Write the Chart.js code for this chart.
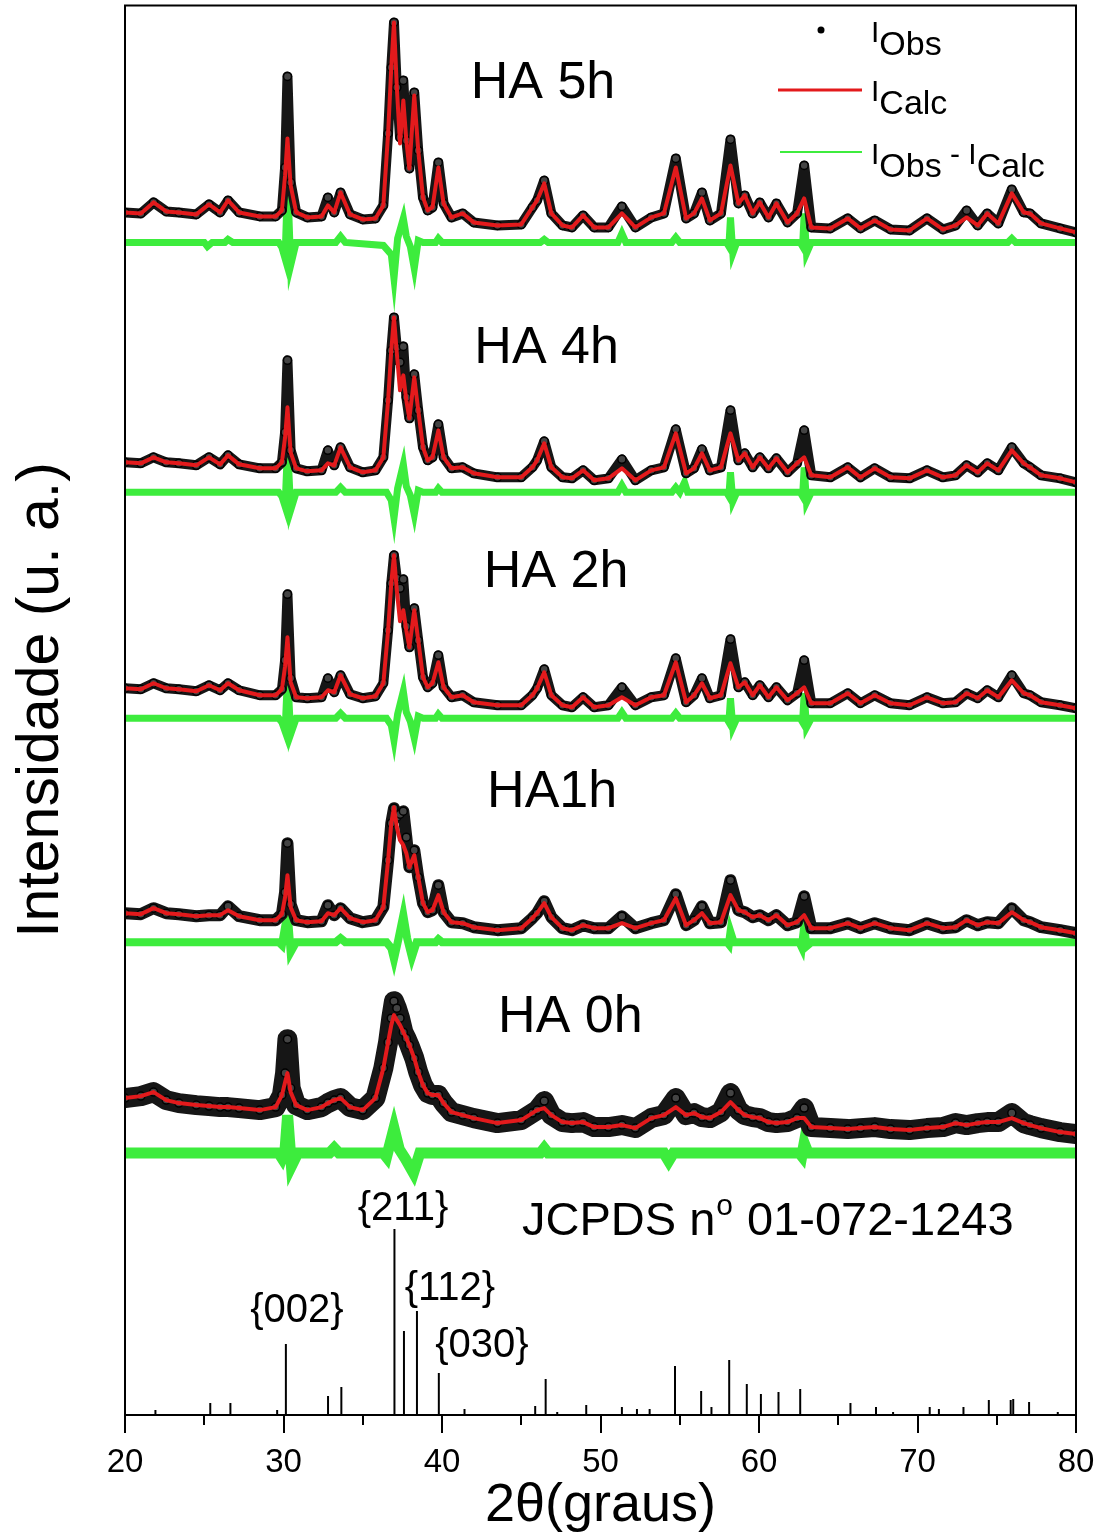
<!DOCTYPE html>
<html>
<head>
<meta charset="utf-8">
<title>DRX HA - refinamento Rietveld</title>
<script src="https://cdn.jsdelivr.net/npm/chart.js@4.4.1/dist/chart.umd.min.js"></script>
<style>
  html, body { margin: 0; padding: 0; background: #fff; }
  #wrap { width: 1101px; height: 1537px; }
</style>
</head>
<body>
<div id="wrap"><canvas id="drx" width="1101" height="1537"></canvas></div>
<script>
// 2θ grid shared by the observed / calculated profiles
const twoTheta = [20, 21.0, 21.8, 22.6, 23.4, 24.5, 25.3, 26.0, 26.5, 27.2, 28.5, 29.5, 29.9, 30.1, 30.25, 30.45, 30.8, 31.5, 32.4, 32.8,
  33.2, 33.6, 34.2, 35.0, 35.8, 36.3, 36.6, 36.8, 36.97, 37.15, 37.35, 37.56, 37.75, 37.94, 38.25, 38.5, 38.8, 39.1, 39.4, 39.77,
  40.1, 40.6, 41.3, 42.0, 43.5, 45.0, 45.7, 46.0, 46.45, 46.9, 47.6, 48.2, 48.9, 49.6, 50.5, 51.35, 52.2, 53.2, 54.0, 54.75,
  55.4, 55.9, 56.4, 56.9, 57.6, 58.2, 58.7, 59.1, 59.6, 60.05, 60.6, 61.1, 61.8, 62.4, 62.85, 63.3, 64.5, 65.6, 66.4, 67.3,
  68.3, 69.5, 70.6, 71.6, 72.4, 73.1, 73.8, 74.4, 75.1, 75.95, 76.7, 77.1, 77.8, 79.0, 80];

// HA 5h
const calc5h = [30, 29, 40, 31, 30, 28, 38, 30, 42, 30, 26, 26, 32, 67, 104, 57, 30, 25, 26, 37,
  30, 50, 28, 23, 24, 37, 109, 175, 220, 155, 99, 142, 102, 74, 147, 92, 45, 32, 35, 75,
  39, 25, 29, 20, 17, 18, 35, 42, 59, 29, 17, 15, 27, 15, 15, 29, 15, 25, 29, 75,
  24, 29, 44, 22, 29, 77, 39, 47, 29, 40, 25, 39, 20, 29, 44, 15, 14, 24, 14, 22,
  13, 12, 24, 13, 17, 25, 17, 29, 19, 49, 30, 29, 19, 14, 10];
const obs5h = [30, 29, 40, 31, 30, 28, 38, 30, 42, 30, 26, 26, 32, 75, 166, 60, 30, 25, 26, 45,
  30, 50, 28, 23, 24, 37, 109, 175, 220, 155, 105, 162, 102, 74, 150, 92, 45, 32, 35, 80,
  39, 25, 29, 20, 17, 18, 35, 42, 62, 29, 17, 15, 27, 15, 15, 36, 15, 25, 29, 84,
  24, 29, 50, 22, 29, 103, 39, 47, 29, 40, 25, 39, 20, 29, 77, 15, 14, 24, 14, 22,
  13, 12, 24, 13, 17, 32, 17, 29, 19, 53, 30, 29, 19, 14, 10];
const diff5h = [[20, 0], [25.0, 0], [25.2, -4], [25.5, 0], [26.3, 0], [26.5, 3], [26.8, 0], [29.7, 0], [29.9, -5], [30.1, -16],
  [30.26, 64], [30.45, -23], [30.8, 0], [33.3, 0], [33.6, 6], [33.9, 0], [36.3, -3], [36.8, -12], [36.97, -36], [37.2, 4],
  [37.56, 24], [37.75, 6], [38.0, -4], [38.25, -26], [38.5, 2], [38.8, 0], [39.6, 0], [39.77, 4], [40.0, 0], [46.2, 0],
  [46.45, 3], [46.7, 0], [51.1, 0], [51.35, 9], [51.6, 0], [54.5, 0], [54.75, 5], [55.0, 0], [57.95, 0], [58.1, -4], [58.2, 25],
  [58.35, -11], [58.6, 0], [62.6, 0], [62.75, -4], [62.85, 29], [63.0, -11], [63.3, 0], [75.7, 0], [75.95, 4], [76.2, 0], [80, 0]];

// HA 4h
const calc4h = [30, 29, 35, 30, 29, 27, 35, 28, 37, 28, 24, 24, 30, 55, 85, 40, 24, 21, 22, 29,
  27, 45, 25, 20, 22, 35, 92, 142, 175, 139, 102, 117, 92, 74, 115, 82, 45, 32, 35, 62,
  35, 24, 25, 19, 15, 15, 25, 32, 49, 25, 15, 14, 22, 12, 14, 24, 12, 22, 25, 59,
  19, 24, 39, 22, 25, 59, 32, 39, 25, 35, 24, 34, 20, 29, 35, 17, 15, 25, 15, 24,
  15, 14, 22, 15, 17, 27, 20, 29, 22, 42, 29, 25, 17, 14, 10];
const obs4h = [30, 29, 35, 30, 29, 27, 35, 28, 37, 28, 24, 24, 30, 60, 132, 42, 24, 21, 22, 42,
  27, 45, 25, 20, 22, 35, 92, 142, 175, 145, 130, 146, 95, 74, 118, 82, 45, 32, 35, 68,
  35, 24, 25, 19, 15, 15, 25, 32, 51, 25, 15, 14, 22, 12, 14, 33, 12, 22, 25, 63,
  19, 24, 43, 22, 25, 82, 32, 39, 25, 35, 24, 34, 20, 29, 62, 17, 15, 25, 15, 24,
  15, 14, 22, 15, 17, 27, 20, 29, 22, 45, 29, 25, 17, 14, 10];
const diff4h = [[20, 0], [29.7, 0], [29.9, -4], [30.1, -14], [30.26, 48], [30.45, -18], [30.8, 0], [33.3, 0], [33.6, 5], [33.9, 0],
  [36.5, 0], [36.8, -8], [36.97, -26], [37.2, 4], [37.56, 28], [37.75, 6], [38.0, -3], [38.25, -22], [38.5, 2], [38.8, 0],
  [39.6, 0], [39.77, 4], [40.0, 0], [51.1, 0], [51.35, 7], [51.6, 0], [54.5, 0], [54.75, 5], [55.0, 0], [55.3, 10],
  [55.5, 0], [57.95, 0], [58.1, -4], [58.2, 20], [58.35, -9], [58.6, 0], [62.6, 0], [62.75, -4], [62.85, 25], [63.0, -10],
  [63.3, 0], [80, 0]];

// HA 2h
const calc2h = [30, 29, 35, 30, 29, 27, 33, 28, 35, 28, 23, 23, 29, 52, 81, 36, 21, 20, 21, 28,
  26, 43, 24, 20, 22, 35, 88, 135, 163, 128, 97, 108, 88, 71, 108, 78, 41, 31, 35, 56,
  31, 21, 23, 16, 13, 13, 23, 30, 46, 23, 13, 11, 21, 11, 13, 21, 13, 21, 23, 56,
  16, 23, 35, 20, 23, 55, 31, 36, 23, 33, 21, 31, 18, 25, 31, 15, 15, 25, 15, 23,
  15, 13, 21, 15, 16, 25, 20, 28, 21, 38, 25, 23, 16, 13, 10];
const obs2h = [30, 29, 35, 30, 29, 27, 33, 28, 35, 28, 23, 23, 29, 58, 124, 40, 21, 20, 21, 40,
  26, 43, 24, 20, 22, 35, 88, 135, 163, 140, 130, 139, 92, 71, 110, 78, 41, 31, 35, 63,
  31, 21, 23, 16, 13, 13, 23, 30, 49, 23, 13, 11, 21, 11, 13, 31, 13, 21, 23, 60,
  16, 23, 40, 20, 23, 79, 31, 36, 23, 33, 21, 31, 18, 25, 58, 15, 15, 25, 15, 23,
  15, 13, 21, 15, 16, 25, 20, 28, 21, 43, 25, 23, 16, 13, 10];
const diff2h = [[20, 0], [29.7, 0], [29.9, -4], [30.1, -13], [30.26, 45], [30.45, -16], [30.8, 0], [33.3, 0], [33.6, 5], [33.9, 0],
  [36.5, 0], [36.8, -7], [36.97, -22], [37.2, 4], [37.56, 27], [37.75, 6], [38.0, -3], [38.25, -20], [38.5, 2], [38.8, 0],
  [39.6, 0], [39.77, 4], [40.0, 0], [51.1, 0], [51.35, 6], [51.6, 0], [54.5, 0], [54.75, 5], [55.0, 0], [57.95, 0], [58.1, -4],
  [58.2, 20], [58.35, -9], [58.6, 0], [62.6, 0], [62.75, -4], [62.85, 25], [63.0, -9], [63.3, 0], [80, 0]];

// HA 1h
const calc1h = [29, 28, 34, 29, 28, 26, 27, 27, 32, 26, 22, 22, 28, 45, 67, 35, 22, 20, 21, 29,
  27, 34, 24, 20, 22, 35, 82, 119, 135, 115, 102, 97, 89, 75, 87, 65, 39, 30, 32, 47,
  30, 20, 19, 15, 12, 14, 24, 29, 39, 25, 14, 12, 17, 14, 14, 19, 14, 19, 22, 44,
  17, 22, 29, 19, 20, 47, 32, 30, 25, 27, 22, 27, 17, 20, 27, 14, 14, 19, 14, 19,
  14, 12, 19, 14, 15, 22, 17, 20, 19, 30, 22, 20, 15, 12, 9];
const obs1h = [29, 28, 34, 29, 28, 26, 27, 27, 36, 26, 22, 22, 28, 50, 99, 38, 22, 20, 21, 37,
  27, 34, 24, 20, 22, 35, 82, 119, 134, 125, 128, 131, 105, 75, 92, 65, 39, 30, 32, 57,
  30, 20, 19, 15, 12, 14, 24, 29, 41, 25, 14, 12, 17, 14, 14, 26, 14, 19, 22, 48,
  17, 22, 36, 19, 20, 62, 32, 30, 25, 27, 22, 27, 17, 20, 46, 14, 14, 19, 14, 19,
  14, 12, 19, 14, 15, 22, 17, 20, 19, 34, 22, 20, 15, 12, 9];
const diff1h = [[20, 0], [29.7, 0], [29.9, -3], [30.26, 30], [30.45, -10], [30.8, 0], [33.3, 0], [33.6, 4], [33.9, 0],
  [36.5, 0], [36.8, -6], [36.97, -17], [37.25, 3], [37.56, 27], [37.8, 4], [38.1, -15], [38.4, 0], [39.6, 0], [39.77, 3],
  [40.0, 0], [58.0, 0], [58.1, -2], [58.2, 10], [58.4, 0], [62.55, 0], [62.7, -5], [62.85, 15], [63.0, -4], [63.3, 0], [80, 0]];

// HA 0h
const calc0h = [55, 57, 61, 53, 50, 48, 47, 46, 46, 45, 43, 46, 58, 71, 80, 61, 48, 43, 46, 50,
  53, 55, 46, 43, 55, 85, 111, 128, 138, 133, 128, 121, 115, 108, 95, 81, 68, 60, 58, 58,
  50, 41, 38, 35, 30, 33, 40, 43, 45, 38, 31, 30, 31, 26, 26, 28, 25, 35, 38, 46,
  38, 40, 36, 35, 41, 51, 43, 38, 36, 35, 31, 30, 31, 35, 35, 26, 25, 24, 25, 26,
  24, 23, 25, 26, 30, 28, 30, 31, 31, 35, 30, 28, 25, 21, 19];
const obs0h = [55, 57, 61, 53, 50, 48, 47, 46, 46, 45, 43, 46, 58, 80, 114, 65, 48, 43, 46, 50,
  53, 55, 46, 43, 55, 85, 111, 135, 152, 145, 135, 121, 115, 108, 95, 81, 68, 60, 58, 58,
  50, 41, 38, 35, 30, 33, 40, 43, 52, 38, 31, 30, 31, 26, 26, 28, 25, 35, 38, 55,
  38, 40, 36, 35, 41, 60, 43, 38, 36, 35, 31, 30, 31, 35, 45, 26, 25, 24, 25, 26,
  24, 23, 25, 26, 30, 28, 30, 31, 31, 40, 30, 28, 25, 21, 19];
const diff0h = [[20, 0], [29.7, 0], [29.9, -5], [30.1, 4], [30.26, 38], [30.5, -13], [30.9, 0], [32.9, 0], [33.2, 5], [33.5, 0],
  [36.3, 0], [36.5, -4], [36.97, 25], [37.3, 4], [37.7, -6], [38.2, -20], [38.6, 0], [46.2, 0], [46.45, 5], [46.7, 0],
  [54.0, 0], [54.3, -8], [54.6, 0], [62.55, 0], [62.7, -3], [62.85, 10], [63.1, 0], [80, 0]];

// JCPDS 01-072-1243 reference lines
const stickPos = [21.92, 25.38, 26.65, 29.6, 30.15, 32.81, 33.65, 37.0, 37.6, 38.42, 39.8, 41.42, 45.88, 46.54, 47.27,
  49.1, 51.35, 52.3, 53.1, 54.7, 56.35, 57.0, 58.12, 59.23, 60.12, 61.23, 62.6, 65.77, 67.38, 68.46,
  70.77, 71.35, 72.9, 74.5, 75.88, 76.04, 77.04, 78.85];
const stickInt = [5, 12, 12, 5, 71, 19, 28, 186, 84, 104, 42, 6, 9, 36, 3,
  10, 8, 6, 6, 49, 24, 8, 55, 31, 21, 23, 26, 12, 8, 3,
  8, 6, 8, 15, 15, 16, 13, 3];
const hklLabels = ['{002}', '{211}', '{112}', '{030}'];

// axis ticks
const majorTicks = [20, 30, 40, 50, 60, 70, 80];
const minorTicks = [25, 35, 45, 55, 65, 75];

// pattern stack: vertical offset of each difference zero line
const patterns = [
  { name: 'HA 5h', calc: calc5h, obs: obs5h, diff: diff5h, offset: 1173 },
  { name: 'HA 4h', calc: calc4h, obs: obs4h, diff: diff4h, offset: 923 },
  { name: 'HA 2h', calc: calc2h, obs: obs2h, diff: diff2h, offset: 697 },
  { name: 'HA1h', calc: calc1h, obs: obs1h, diff: diff1h, offset: 473 },
  { name: 'HA 0h', calc: calc0h, obs: obs0h, diff: diff0h, offset: 262 }
];

// styling / placement
const RED = '#e31a1c';
const GREEN = '#3dec3d';
const FONT = "'Liberation Sans', Arial, Helvetica, sans-serif";
const bandWidth = [10, 10, 10, 12, 20];
const diffWidth = [7, 7, 7, 8, 11];
const nameAnchor = [[46.37, 1317], [46.6, 1052], [47.2, 828], [46.95, 608], [48.1, 383]];
const hklAnchor = [[30.85, 93], [37.54, 195], [40.5, 115], [42.52, 58]];

const datasets = [];
patterns.forEach((p, k) => {
  datasets.push({
    label: p.name + ' calc',
    data: twoTheta.map((t, i) => ({ x: t, y: p.offset + p.calc[i] })),
    borderColor: RED, borderWidth: 4, pointRadius: 0, tension: 0, order: 1,
    borderJoinStyle: 'round'
  });
  datasets.push({
    label: p.name + ' obs',
    data: twoTheta.map((t, i) => ({ x: t, y: p.offset + p.obs[i] })),
    borderColor: '#161616', borderWidth: bandWidth[k], borderJoinStyle: 'round', borderCapStyle: 'round',
    pointRadius: 4, pointBackgroundColor: '#444', pointBorderColor: '#000', pointBorderWidth: 1.5,
    tension: 0, order: 2
  });
  datasets.push({
    label: p.name + ' diff',
    data: p.diff.map(([t, d]) => ({ x: t, y: p.offset + d })),
    borderColor: GREEN, borderWidth: diffWidth[k], pointRadius: 0, tension: 0, order: 3
  });
});

// each reference line goes up from the base and back down
datasets.push({
  label: 'JCPDS',
  data: stickPos.flatMap((t, i) => [{ x: t, y: 0 }, { x: t, y: stickInt[i] }, { x: t, y: 0 }]),
  borderColor: '#000', borderWidth: 2, pointRadius: 0, tension: 0, order: 4
});

const decor = {
  id: 'decor',
  afterDatasetsDraw(chart) {
    const ctx = chart.ctx;
    const a = chart.chartArea;
    const xs = chart.scales.x, ys = chart.scales.y;
    ctx.save();

    // frame
    ctx.strokeStyle = '#000';
    ctx.lineWidth = 2;
    ctx.strokeRect(a.left, a.top, a.right - a.left, a.bottom - a.top);

    // ticks below the axis
    ctx.beginPath();
    majorTicks.forEach(v => { const px = Math.round(xs.getPixelForValue(v)); ctx.moveTo(px, a.bottom); ctx.lineTo(px, a.bottom + 18); });
    minorTicks.forEach(v => { const px = Math.round(xs.getPixelForValue(v)); ctx.moveTo(px, a.bottom); ctx.lineTo(px, a.bottom + 10); });
    ctx.stroke();

    ctx.fillStyle = '#000';
    ctx.textAlign = 'center';
    ctx.textBaseline = 'alphabetic';
    ctx.font = '33px ' + FONT;
    majorTicks.forEach(v => ctx.fillText(String(v), xs.getPixelForValue(v), a.bottom + 57));

    ctx.font = '54px ' + FONT;
    ctx.fillText('2\u03B8(graus)', (a.left + a.right) / 2, a.bottom + 106);

    // y title
    ctx.save();
    ctx.translate(42, 700);
    ctx.rotate(-Math.PI / 2);
    ctx.font = '59px ' + FONT;
    ctx.textBaseline = 'middle';
    ctx.fillText('Intensidade (u. a.)', 0, 0);
    ctx.restore();

    // sample names
    ctx.font = '52px ' + FONT;
    patterns.forEach((p, k) => {
      ctx.fillText(p.name, xs.getPixelForValue(nameAnchor[k][0]), ys.getPixelForValue(nameAnchor[k][1]));
    });

    // reflection labels
    ctx.font = '40px ' + FONT;
    hklLabels.forEach((s, k) => {
      ctx.fillText(s, xs.getPixelForValue(hklAnchor[k][0]), ys.getPixelForValue(hklAnchor[k][1]));
    });

    // card number
    ctx.textAlign = 'left';
    ctx.font = '47px ' + FONT;
    let cx = 522;
    const cardY = 1235;
    ctx.fillText('JCPDS n', cx, cardY);
    cx += ctx.measureText('JCPDS n').width;
    ctx.font = '30px ' + FONT;
    ctx.fillText('o', cx + 1, cardY - 20);
    cx += ctx.measureText('o').width + 2;
    ctx.font = '47px ' + FONT;
    ctx.fillText(' 01-072-1243', cx, cardY);

    // legend
    const lx = 871;
    const subText = (main, sub, x, y) => {
      ctx.font = '30px ' + FONT;
      ctx.fillText(main, x, y);
      const w = ctx.measureText(main).width;
      ctx.font = '34px ' + FONT;
      ctx.fillText(sub, x + w, y + 13);
      return x + w + ctx.measureText(sub).width;
    };
    ctx.beginPath();
    ctx.arc(821, 30, 3.5, 0, Math.PI * 2);
    ctx.fill();
    subText('I', 'Obs', lx, 42);

    ctx.strokeStyle = RED; ctx.lineWidth = 3;
    ctx.beginPath(); ctx.moveTo(778, 90); ctx.lineTo(862, 90); ctx.stroke();
    subText('I', 'Calc', lx, 101);

    ctx.strokeStyle = GREEN; ctx.lineWidth = 2;
    ctx.beginPath(); ctx.moveTo(780, 152); ctx.lineTo(862, 152); ctx.stroke();
    let ex = subText('I', 'Obs', lx, 164);
    ctx.font = '30px ' + FONT;
    ctx.fillText(' - ', ex, 164);
    ex += ctx.measureText(' - ').width;
    subText('I', 'Calc', ex, 164);

    ctx.restore();
  }
};

new Chart(document.getElementById('drx'), {
  type: 'line',
  data: { datasets },
  options: {
    responsive: false,
    animation: false,
    devicePixelRatio: 1,
    parsing: false,
    normalized: true,
    layout: { padding: { left: 125, right: 25, top: 5, bottom: 122 } },
    scales: {
      x: { type: 'linear', min: 20, max: 80, display: false },
      y: { type: 'linear', min: 0, max: 1410, display: false }
    },
    plugins: { legend: { display: false }, tooltip: { enabled: false } },
    elements: { line: { fill: false } }
  },
  plugins: [decor]
});
</script>
</body>
</html>
